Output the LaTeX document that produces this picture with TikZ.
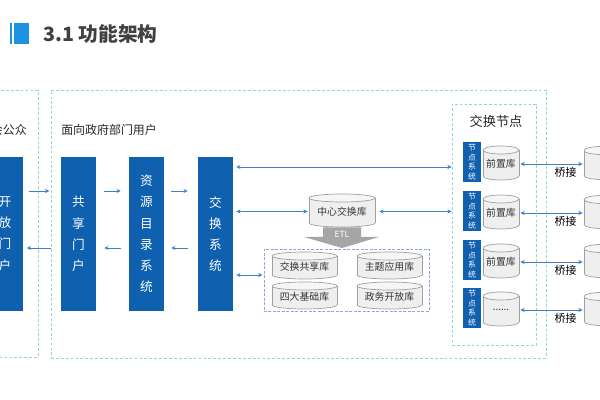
\documentclass[tikz,border=0pt]{standalone}
\usepackage{fontspec}
\setmainfont{Noto Sans CJK SC}
\usepackage{xcolor}
\usetikzlibrary{arrows.meta,positioning}

\definecolor{sysblue}{HTML}{1060B0}
\definecolor{linkblue}{HTML}{3F80CC}
\definecolor{grpcyan}{HTML}{8DD5DF}
\definecolor{libedge}{HTML}{8FA8D0}
\definecolor{titlebar}{HTML}{1B93E0}
\definecolor{titlegray}{HTML}{404040}
\definecolor{dbfill}{HTML}{EFEFEF}
\definecolor{dbtop}{HTML}{F6F6F6}
\definecolor{dbline}{HTML}{A0A0A0}

\newcommand{\moredots}{......}
% cylinder: name, x, y, width, height, label (pixel units)
\newcommand{\dbnode}[6]{%
  \filldraw[dbedge] (#2,#3+#5/2-4) ellipse[x radius=#4/2, y radius=4];
  \fill[dbfill] (#2-#4/2,#3-#5/2+4) rectangle (#2+#4/2,#3+#5/2-4);
  \draw[dbedge] (#2-#4/2,#3-#5/2+4) -- (#2-#4/2,#3+#5/2-4)
                (#2+#4/2,#3-#5/2+4) -- (#2+#4/2,#3+#5/2-4);
  \filldraw[dbedge, fill=dbtop] (#2,#3-#5/2+4) ellipse[x radius=#4/2, y radius=4];
  \node[dbtext, minimum width=#4*0.025cm, minimum height=#5*0.025cm] (#1) at (#2,#3+1) {#6};
}

\begin{document}
\begin{tikzpicture}[x=0.025cm, y=-0.025cm,
  font=\fontsize{8.5}{10}\selectfont,
  grp/.style={draw=grpcyan, line width=0.6pt, dash pattern=on 2pt off 1.5pt, inner sep=0},
  grplabel/.style={font=\fontsize{8.5}{10}\selectfont, text=black!85, inner sep=0},
  sys/.style={fill=sysblue, text=white, inner sep=0, align=center,
              minimum width=0.875cm, minimum height=3.85cm,
              font=\fontsize{9}{15.1}\selectfont},
  nodesys/.style={fill=sysblue, text=white, inner sep=0, align=center,
              minimum width=0.45cm, minimum height=1cm,
              font=\fontsize{5.6}{6.8}\selectfont},
  dbedge/.style={draw=dbline, fill=dbfill, line width=0.5pt},
  dbtext/.style={inner sep=0, text=black!80, font=\fontsize{7}{8}\selectfont},
  arr/.style={-{Stealth[length=3pt, width=3pt]}, line width=0.6pt, draw=linkblue},
  darr/.style={{Stealth[length=3pt, width=3pt]}-{Stealth[length=3pt, width=3pt]},
               line width=0.6pt, draw=linkblue}]
\useasboundingbox (0,0) rectangle (600,400);
\clip (0,0) rectangle (600,400);
% --- title ---
\fill[titlebar] (10,23) rectangle (12,44);
\fill[titlebar] (13.5,23) rectangle (29,44);
\node[anchor=west, inner sep=0, text=titlegray,
      font=\fontsize{14}{16}\selectfont\bfseries] (title) at (43,34) {3.1 功能架构};
% --- groups ---
\node[grp, minimum width=1.45cm, minimum height=6.675cm] (pub) at (9,223.5) {};
\node[grp, minimum width=12.375cm, minimum height=6.7cm] (gov) at (298.5,224) {};
\node[grp, minimum width=2.1cm, minimum height=6.025cm] (xnode) at (494,224.5) {};
\node[draw=libedge, line width=0.6pt, dash pattern=on 2pt off 1.2pt, inner sep=0,
      minimum width=4.125cm, minimum height=1.55cm] (lib) at (346.5,280) {};
\node[grplabel, anchor=east] (publbl) at (27,130) {社会公众};
\node[grplabel, anchor=west] (govlbl) at (61,130) {面向政府部门用户};
\node[grplabel, font=\fontsize{9.4}{11}\selectfont] (xnodelbl) at (496,121) {交换节点};
% --- portal / system columns ---
\node[sys] (open) at (5,234) {开\\放\\门\\户};
\node[sys] (share) at (78.5,234) {共\\享\\门\\户};
\node[sys] (dir) at (146.5,234) {资\\源\\目\\录\\系\\统};
\node[sys] (xch) at (215.5,234) {交\\换\\系\\统};
\coordinate (fwd) at (0,191);
\coordinate (bwd) at (0,248);
\draw[arr, shorten <=0.15cm, shorten >=0.03cm] (open.east |- fwd) -- (gov.west |- fwd);
\draw[arr, shorten >=0.1cm] (gov.west |- bwd) -- (open.east |- bwd);
\draw[arr, shorten <=0.2cm, shorten >=0.2cm] (share.east |- fwd) -- (dir.west |- fwd);
\draw[arr, shorten <=0.2cm, shorten >=0.2cm] (dir.west |- bwd) -- (share.east |- bwd);
\draw[arr, shorten <=0.175cm, shorten >=0.25cm] (dir.east |- fwd) -- (xch.west |- fwd);
\draw[arr, shorten <=0.25cm, shorten >=0.175cm] (xch.west |- bwd) -- (dir.east |- bwd);
% --- central exchange store and ETL ---
\dbnode{hub}{342}{210.5}{66}{33}{中心交换库}
\fill[black!35] (323,227.5) -- (361,227.5) -- (361,237) -- (379,237) -- (342,248)
  -- (304,237) -- (323,237) -- cycle;
\node[inner sep=0, text=white, font=\fontsize{6}{7}\selectfont] (etl) at (342,234) {ETL};
\dbnode{xshdb}{304.5}{265.5}{65}{27}{交换共享库}
\dbnode{topicdb}{389.5}{265.5}{65}{27}{主题应用库}
\dbnode{basedb}{304.5}{295.5}{65}{27}{四大基础库}
\dbnode{opendb}{389.5}{295.5}{65}{27}{政务开放库}
\coordinate (toprow) at (0,167);
\coordinate (librow) at (0,275);
\draw[darr, shorten <=0.075cm] (xch.east |- toprow) -- (xnode.west |- toprow);
\draw[darr, shorten <=0.075cm, shorten >=0.03cm] (xch.east |- hub) -- (hub.west);
\draw[darr, shorten <=0.1cm] (hub.east) -- (xnode.west |- hub);
\draw[darr, shorten <=0.075cm, shorten >=0.03cm] (xch.east |- librow) -- (lib.west |- librow);
% --- exchange nodes ---
\foreach \i/\y/\t in {1/163/前置库, 2/212/前置库, 3/261/前置库, 4/309/\moredots} {
  \node[nodesys] (ns\i) at (472,\y-1) {节\\点\\系\\统};
  \dbnode{pre\i}{501}{\y}{36}{34}{\t}
  \dbnode{far\i}{602}{\y}{36}{33}{}
  \draw[darr, shorten <=0.03cm, shorten >=0.03cm] (pre\i.east) --
    node[pos=0.72, below=2pt, inner sep=0, font=\fontsize{7.8}{9}\selectfont] (br\i) {桥接}
    (far\i.west);
}
\end{tikzpicture}
\end{document}
